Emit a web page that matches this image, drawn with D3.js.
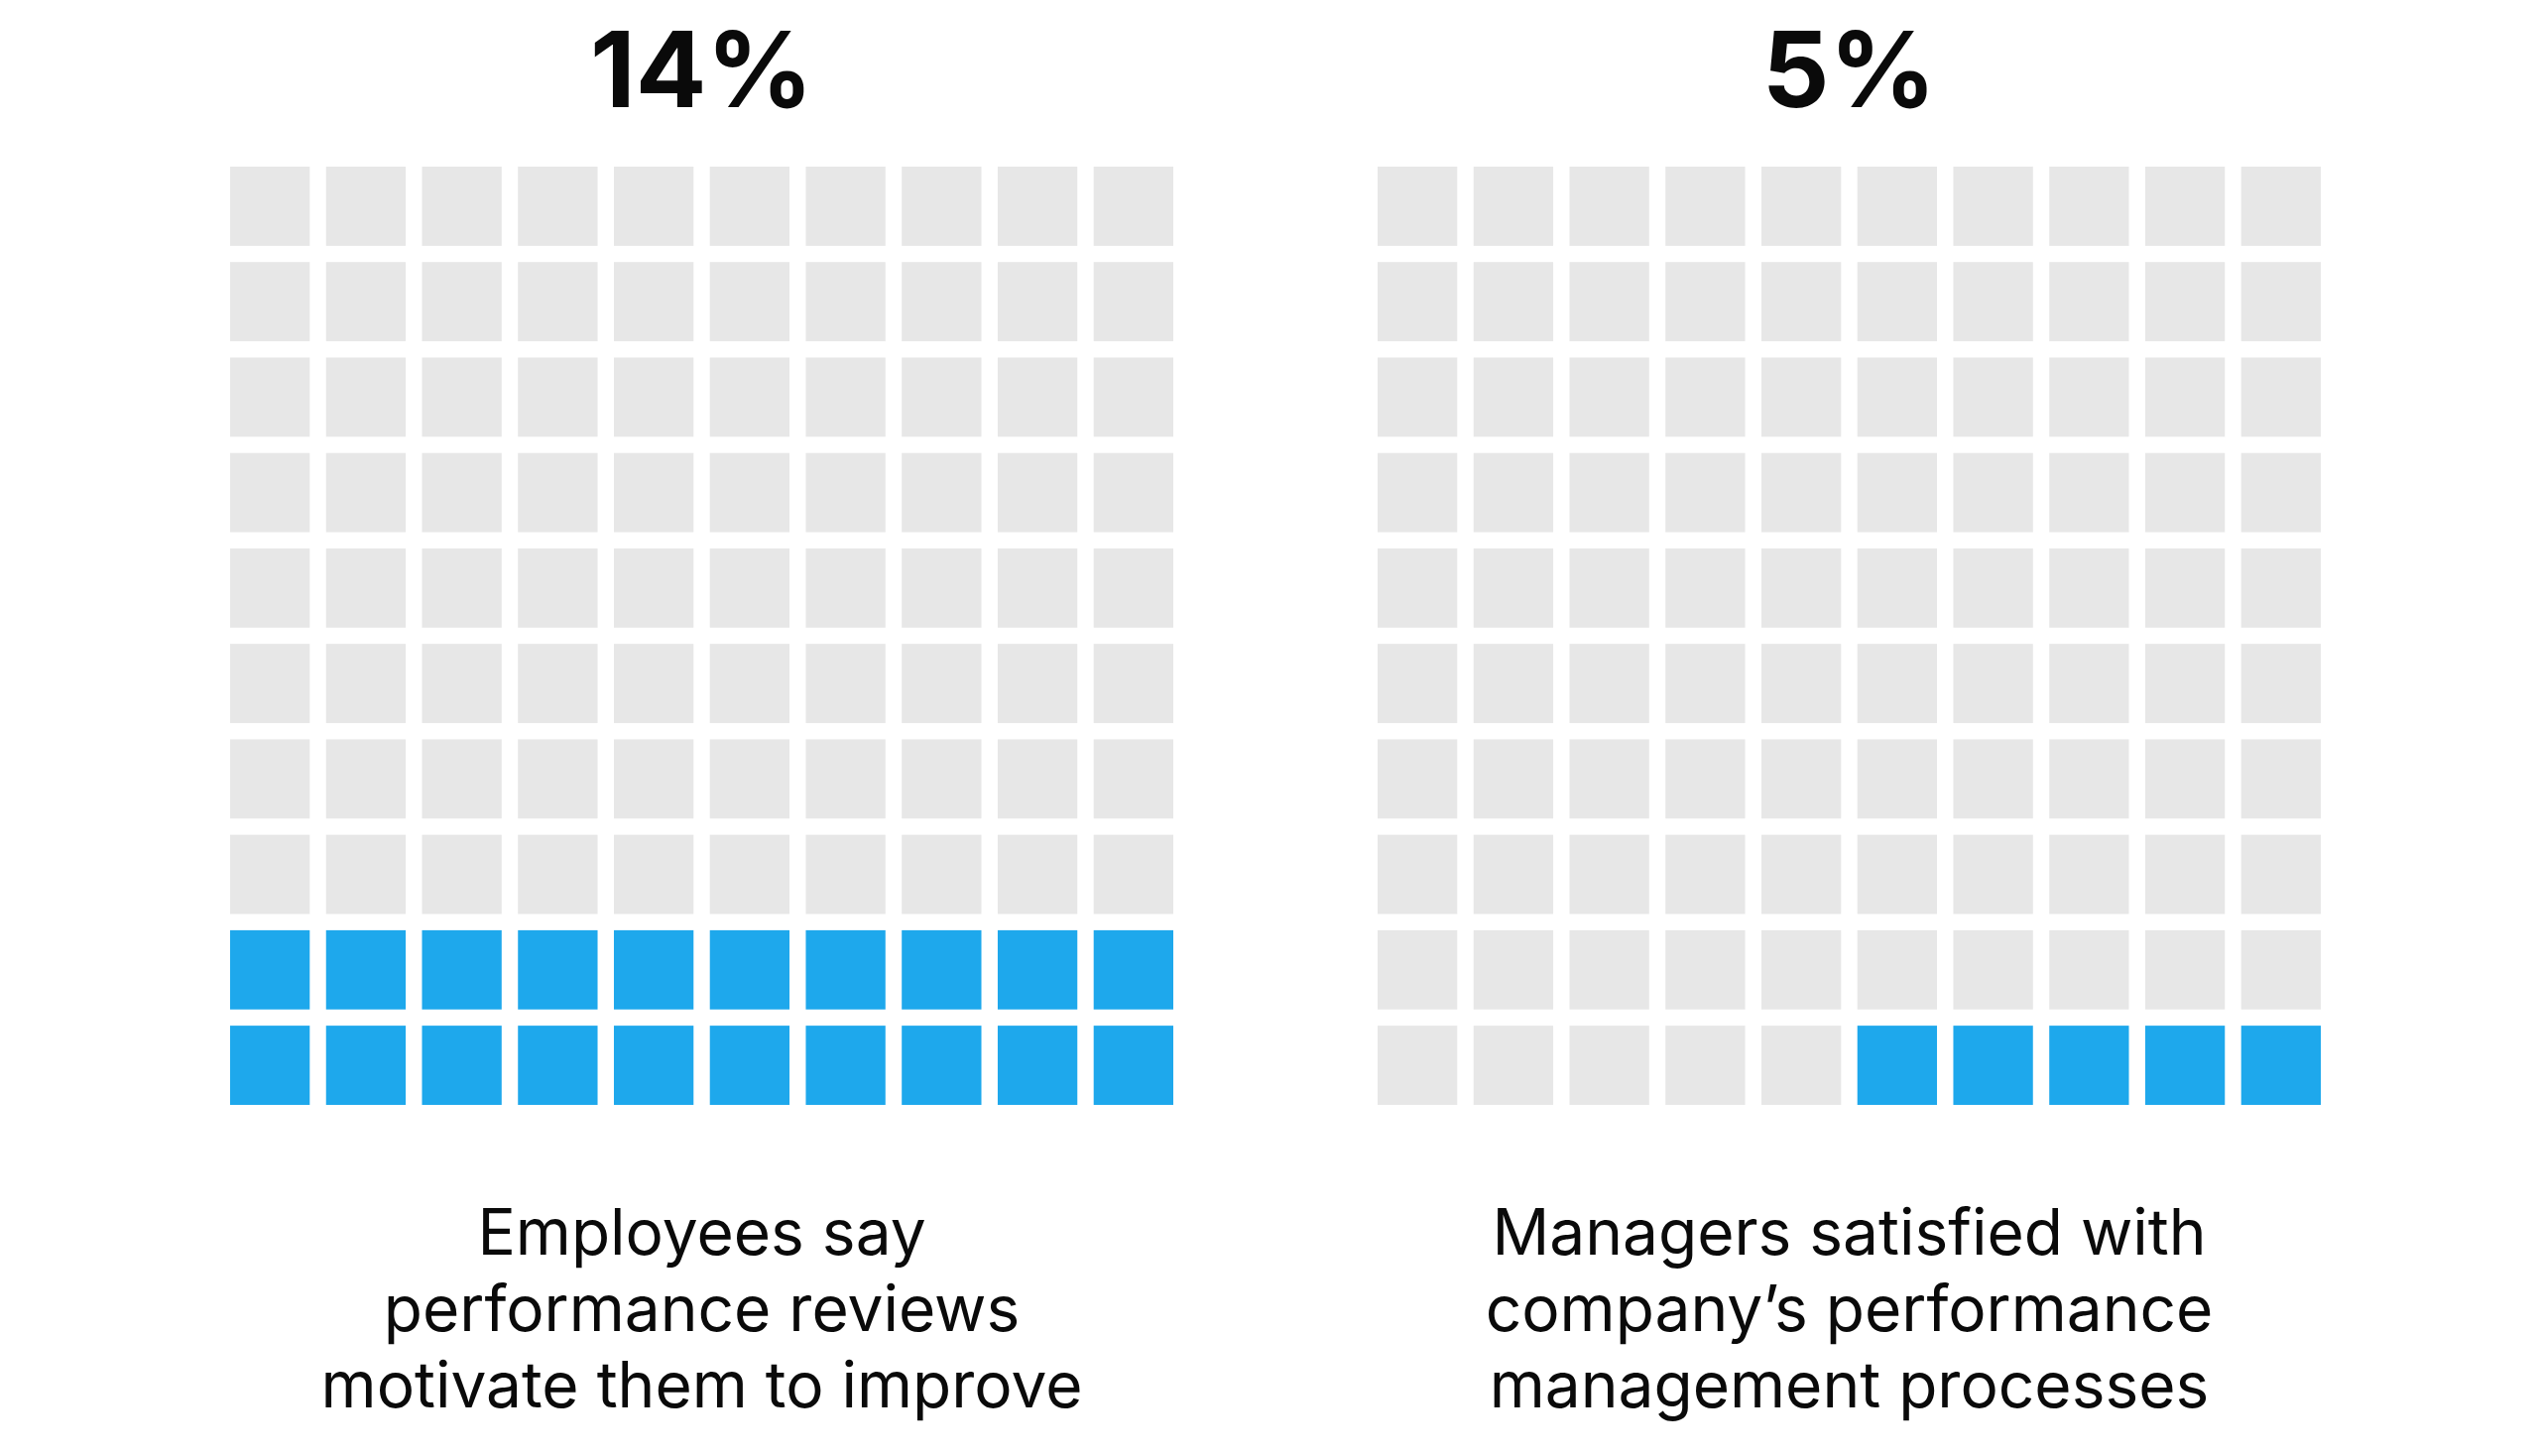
<!DOCTYPE html>
<html>
<head>
<meta charset="utf-8">
<script src="https://cdn.jsdelivr.net/npm/d3@7"></script>
<style>
  body { margin: 0; background: #ffffff; }
  text { font-family: Inter, "Noto Sans", sans-serif; }
</style>
</head>
<body>
<div id="chart"></div>
<script>
// data
let percentLabels = ["14%", "5%"];
let filledCounts = [20, 5];
let captions = [
  ["Employees say", "performance reviews", "motivate them to improve"],
  ["Managers satisfied with", "company\u2019s performance", "management processes"]
];
let gridSize = 10;

let svgWidth = 2560;
let svgHeight = 1468;

let svg = d3.select("#chart")
  .append("svg")
  .attr("width", svgWidth)
  .attr("height", svgHeight);

// left edge of each waffle grid
let gridLeft = [232, 1389];
let gridWidth = 951;
let gridTop = 168;
let gridHeight = 946;

let cells = d3.range(gridSize * gridSize);

percentLabels.forEach(function(label, p) {
  let g = svg.append("g");

  let x = d3.scaleBand()
    .domain(d3.range(gridSize))
    .range([gridLeft[p], gridLeft[p] + gridWidth])
    .paddingInner(0.17);

  let y = d3.scaleBand()
    .domain(d3.range(gridSize))
    .range([gridTop, gridTop + gridHeight])
    .paddingInner(0.17);

  let cx = gridLeft[p] + gridWidth / 2;

  // cells fill from the bottom right corner
  g.selectAll("rect")
    .data(cells)
    .enter()
    .append("rect")
    .attr("x", i => x(gridSize - 1 - i % gridSize))
    .attr("y", i => y(gridSize - 1 - Math.floor(i / gridSize)))
    .attr("width", x.bandwidth())
    .attr("height", y.bandwidth())
    .attr("fill", i => i < filledCounts[p] ? "#1ea8ec" : "#e7e7e7");

  g.append("text")
    .attr("x", cx)
    .attr("y", 108)
    .attr("text-anchor", "middle")
    .attr("font-size", "106px")
    .attr("font-weight", "bold")
    .attr("fill", "#0a0a0a")
    .text(label);

  g.selectAll(".caption")
    .data(captions[p])
    .enter()
    .append("text")
    .attr("class", "caption")
    .attr("x", cx)
    .attr("y", (d, i) => 1265 + i * 77)
    .attr("text-anchor", "middle")
    .attr("font-size", "64px")
    .attr("fill", "#0a0a0a")
    .text(d => d);
});
</script>
</body>
</html>
